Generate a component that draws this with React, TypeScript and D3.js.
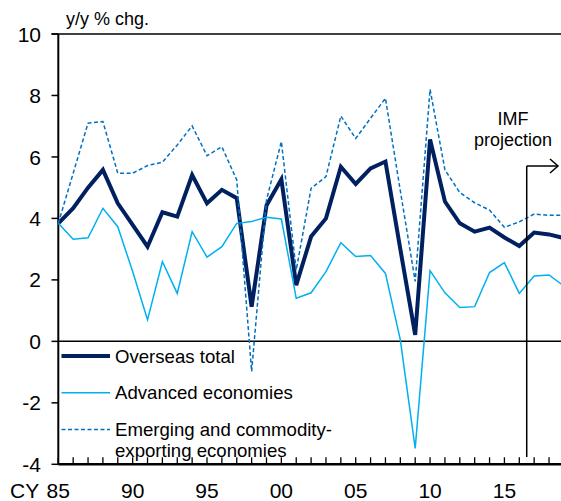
import React from "react";
import * as d3 from "d3";

const years = d3.range(1985, 2020);
const overseasTotal = [
  3.84, 4.33, 5.0, 5.58, 4.49, 3.79, 3.08, 4.2, 4.06, 5.41,
  4.49, 4.93, 4.66, 1.13, 4.42, 5.27, 1.83, 3.41, 4.0, 5.68,
  5.12, 5.63, 5.85, 3.0, 0.21, 6.57, 4.55, 3.84, 3.57, 3.7,
  3.38, 3.1, 3.54, 3.48, 3.36,
];
const advanced = [
  3.84, 3.32, 3.37, 4.33, 3.73, 2.27, 0.7, 2.59, 1.56, 3.57,
  2.74, 3.08, 3.84, 3.9, 4.04, 3.98, 1.4, 1.58, 2.27, 3.21,
  2.76, 2.79, 2.21, 0.05, -3.48, 2.3, 1.58, 1.1, 1.13, 2.24,
  2.56, 1.56, 2.13, 2.16, 1.8,
];
const emerging = [
  3.84, 5.47, 7.1, 7.15, 5.47, 5.47, 5.72, 5.83, 6.39, 7.01,
  6.04, 6.33, 5.25, -0.98, 4.6, 6.5, 2.32, 4.98, 5.36, 7.33,
  6.6, 7.26, 7.91, 4.9, 1.95, 8.2, 5.58, 4.84, 4.51, 4.27,
  3.71, 3.89, 4.14, 4.1, 4.1,
];
const yTicks = [-4, -2, 0, 2, 4, 6, 8, 10];
const xLabelYears = [1985, 1990, 1995, 2000, 2005, 2010, 2015];
const projectionStart = 2016.5;

const legendItems = [
  { label: ["Overseas total"], color: "#002060", width: 4, dash: "" },
  { label: ["Advanced economies"], color: "#00B0F0", width: 1.5, dash: "" },
  { label: ["Emerging and commodity-", "exporting economies"], color: "#0070C0", width: 1.5, dash: "4,2.5" },
];

const W = 561;
const H = 501;
const FONT = "'Liberation Sans', Arial, sans-serif";

export default function App() {
  const x = d3.scaleLinear().domain([1985, 2019]).range([58.3, 563.9]);
  const y = d3.scaleLinear().domain([-4, 10]).range([464.3, 34.0]);
  const line = (vals: number[]) =>
    d3
      .line<number>()
      .x((_, i) => x(years[i]))
      .y((v) => y(v))(vals) as string;

  const left = x(1985);
  const px = x(projectionStart);
  const arrowY = 166;
  return (
    <svg
      width={W}
      height={H}
      style={{ position: "absolute", left: 0, top: 0, background: "#fff" }}
      fontFamily={FONT}
    >
      {/* top frame line */}
      <line x1={51.5} x2={W} y1={y(10)} y2={y(10)} stroke="#000" strokeWidth={1.5} />
      {/* zero line */}
      <line x1={left} x2={W} y1={y(0)} y2={y(0)} stroke="#000" strokeWidth={1.5} />
      {/* y axis */}
      <line x1={left} x2={left} y1={y(10)} y2={y(-4)} stroke="#000" strokeWidth={2} />
      {yTicks.map((t) => (
        <g key={t}>
          <line x1={51.5} x2={left} y1={y(t)} y2={y(t)} stroke="#000" strokeWidth={1.5} />
          <text x={41} y={y(t)} dy="0.36em" textAnchor="end" fontSize={21}>
            {t}
          </text>
        </g>
      ))}
      {/* x axis */}
      <line x1={left} x2={W} y1={y(-4)} y2={y(-4)} stroke="#000" strokeWidth={2.5} />
      {years.map((yr) => (
        <line key={yr} x1={x(yr)} x2={x(yr)} y1={y(-4)} y2={y(-4) - 7} stroke="#000" strokeWidth={1.3} />
      ))}
      {xLabelYears.map((yr) => (
        <text key={yr} x={x(yr)} y={498} textAnchor="middle" fontSize={21}>
          {String(yr % 100).padStart(2, "0")}
        </text>
      ))}
      <text x={10} y={498} fontSize={21}>CY</text>
      <text x={66} y={25} fontSize={18}>y/y % chg.</text>

      {/* series */}
      <path d={line(overseasTotal)} fill="none" stroke="#002060" strokeWidth={4} strokeLinejoin="miter" />
      <path d={line(advanced)} fill="none" stroke="#00B0F0" strokeWidth={1.5} />
      <path d={line(emerging)} fill="none" stroke="#0070C0" strokeWidth={1.5} strokeDasharray="4,2.5" />

      {/* projection marker */}
      <line x1={px} x2={px} y1={arrowY} y2={457} stroke="#000" strokeWidth={1.5} />
      <line x1={px} x2={558} y1={arrowY} y2={arrowY} stroke="#000" strokeWidth={1.5} />
      <polyline points={`550,${arrowY - 7} 558,${arrowY} 550,${arrowY + 7}`} fill="none" stroke="#000" strokeWidth={1.5} />
      <text x={513} y={125} textAnchor="middle" fontSize={18}>IMF</text>
      <text x={513} y={146} textAnchor="middle" fontSize={18}>projection</text>

      {/* legend */}
      {legendItems.map((it, i) => {
        const cy = 356 + i * 36.7;
        return (
          <g key={i}>
            <line x1={61.5} x2={110} y1={cy} y2={cy} stroke={it.color} strokeWidth={it.width} strokeDasharray={it.dash || undefined} />
            {it.label.map((l, j) => (
              <text key={j} x={115} y={cy + j * 21} dy="0.35em" fontSize={18.6}>
                {l}
              </text>
            ))}
          </g>
        );
      })}
    </svg>
  );
}
